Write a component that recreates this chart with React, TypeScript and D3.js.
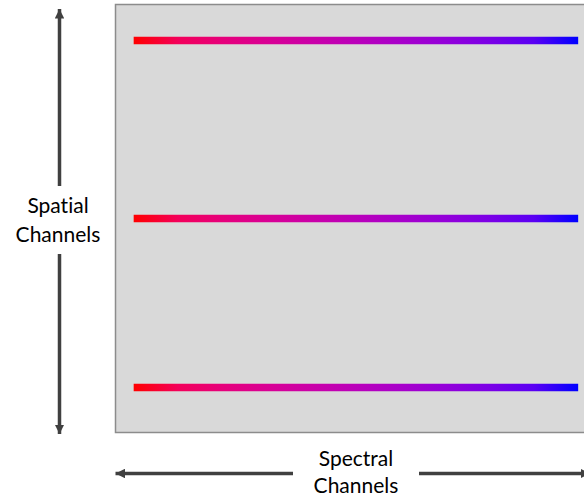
import React from "react";
import * as d3 from "d3";

const W = 584;
const H = 498;

// Spatial channel rows (relative position within the cube face, 0 = bottom, 1 = top)
const spatialRows = [0.916, 0.5, 0.105];
// Spectral extent of each row (relative, 0 = left edge of face, 1 = right end)
const spectralStart = [0.0385, 0.0385, 0.0385];
const spectralEnd = [0.955, 0.955, 0.955];
// Gradient colour endpoints
const gradientColors = ["#ff0000", "#0000ff"];
// Axis labels
const yLabel = ["Spatial", "Channels"];
const xLabel = ["Spectral", "Channels"];

export default function App() {
  const rect = { x0: 115.5, x1: 600, y0: 4.5, y1: 432.5 };
  const xs = d3.scaleLinear().domain([0, 1]).range([115, 600]);
  const y = d3.scaleLinear().domain([0, 1]).range([rect.y1, rect.y0]);
  const interp = d3.interpolateRgb.gamma(2.2)(gradientColors[0], gradientColors[1]);
  const stops = d3.range(0, 1.0001, 0.1);
  const arrowColor = "#404040";
  const font = "Lato, 'Open Sans', sans-serif";

  const vx = 59.5;
  const hy = 473.5;

  return (
    <svg
      width={W}
      height={H}
      style={{ position: "absolute", left: 0, top: 0, background: "#fff" }}
    >
      <defs>
        <linearGradient
          id="spec"
          gradientUnits="userSpaceOnUse"
          x1={xs(spectralStart[0])}
          x2={xs(spectralEnd[0])}
          y1={0}
          y2={0}
        >
          {stops.map((t) => (
            <stop key={t} offset={t} stopColor={interp(t)} />
          ))}
        </linearGradient>
        <marker
          id="ah"
          viewBox="0 0 10 10"
          refX={10}
          refY={5}
          markerWidth={9.5}
          markerHeight={9.5}
          markerUnits="userSpaceOnUse"
          orient="auto"
        >
          <path d="M0,0 L10,5 L0,10 z" fill={arrowColor} />
        </marker>
      </defs>
      <rect
        x={rect.x0}
        y={rect.y0}
        width={rect.x1 - rect.x0}
        height={rect.y1 - rect.y0}
        fill="#d9d9d9"
        stroke="#8c8c8c"
        strokeWidth={1.5}
      />
      {spatialRows.map((r, i) => (
        <line
          key={i}
          x1={xs(spectralStart[i])}
          x2={xs(spectralEnd[i])}
          y1={y(r)}
          y2={y(r)}
          stroke="url(#spec)"
          strokeWidth={7.5}
        />
      ))}
      {/* vertical double arrow */}
      <line x1={vx} x2={vx} y1={186} y2={9} stroke={arrowColor} strokeWidth={3.5} markerEnd="url(#ah)" />
      <line x1={vx} x2={vx} y1={254} y2={434} stroke={arrowColor} strokeWidth={3.5} markerEnd="url(#ah)" />
      {/* horizontal double arrow */}
      <line x1={293} x2={115.5} y1={hy} y2={hy} stroke={arrowColor} strokeWidth={3.5} markerEnd="url(#ah)" />
      <line x1={419} x2={590} y1={hy} y2={hy} stroke={arrowColor} strokeWidth={3.5} markerEnd="url(#ah)" />
      <g
        fontFamily={font}
        fontSize={21}
        fill="#000"
        textAnchor="middle"
        style={{ fontVariantLigatures: "none" }}
      >
        <text x={58} y={213}>{yLabel[0]}</text>
        <text x={58} y={242}>{yLabel[1]}</text>
        <text x={356} y={466}>{xLabel[0]}</text>
        <text x={356} y={493}>{xLabel[1]}</text>
      </g>
    </svg>
  );
}
